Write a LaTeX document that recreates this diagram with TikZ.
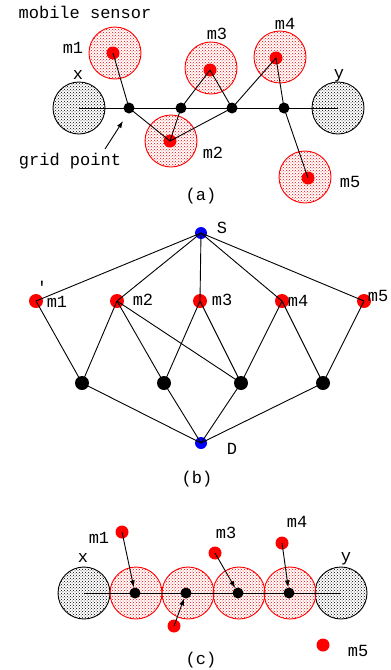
\documentclass[tikz,border=0pt]{standalone}
\usepackage{fontspec}
\setmonofont{Liberation Mono}
\usetikzlibrary{arrows.meta, patterns, positioning}
\tikzset{
  sensrange/.style = {circle, draw=red, line width=0.9pt, pattern=crosshatch dots,
                   pattern color=red, minimum size=52pt, inner sep=0pt},
  endcirc/.style= {circle, draw=black, line width=0.9pt, pattern=crosshatch dots,
                   pattern color=black, minimum size=52pt, inner sep=0pt},
  sensor/.style = {circle, fill=red, minimum size=13pt, inner sep=0pt},
  gridpt/.style = {circle, fill=black, minimum size=11pt, inner sep=0pt},
  term/.style   = {circle, fill=blue, minimum size=12pt, inner sep=0pt},
  big/.style    = {minimum size=14pt},
  ln/.style     = {draw=black, line width=0.9pt},
  ar/.style     = {-{Latex[length=7pt, width=5pt]}, draw=black, line width=0.9pt},
  lbl/.style    = {font=\fontsize{17}{20}\selectfont\ttfamily, inner sep=0pt}
}
\begin{document}
\begin{tikzpicture}[x=1pt, y=-1pt]
  \useasboundingbox (0,0) rectangle (391,670);
  % (a) sensors and their ranges
  \node[endcirc] (xa) at (79,108) {};
  \node[endcirc] (ya) at (338,108) {};
  \node[sensrange] (ra1) at (115,53) {};
  \node[sensrange] (ra2) at (171,141) {};
  \node[sensrange] (ra3) at (211,68) {};
  \node[sensrange] (ra4) at (280,57) {};
  \node[sensrange] (ra5) at (305,177) {};
  \draw[ln] (xa.center) -- (ya.center);
  \foreach \i/\gx in {1/129, 2/181, 3/232, 4/284}
    \node[gridpt] (ga\i) at (\gx,108) {};
  \node[sensor] (ma1) at (113,53) {};
  \node[sensor] (ma2) at (170,141) {};
  \node[sensor] (ma3) at (210,70) {};
  \node[sensor] (ma4) at (276,58) {};
  \node[sensor] (ma5) at (308,178) {};
  \draw[ln] (ma1.center) -- (ga1.center) -- (ma2.center) -- (ga2.center)
            -- (ma3.center) -- (ga3.center) -- (ma2.center);
  \draw[ln] (ga3.center) -- (ma4.center) -- (ga4.center) -- (ma5.center);
  \node[lbl] (title) at (85,12) {mobile sensor};
  \node[lbl] at (73,48) {m1};
  \node[lbl] at (213,153) {m2};
  \node[lbl] at (217,34) {m3};
  \node[lbl] at (285,24) {m4};
  \node[lbl] at (350,182) {m5};
  \node[lbl] at (78,75) {x};
  \node[lbl] at (339,76) {y};
  \node[lbl] (gp) at (70,161) {grid point};
  \coordinate (gptip) at (123,121);
  \draw[ar] (105,149) -- (gptip);
  \node[lbl] (capa) at (201,196) {(a)};
  % (b) flow graph
  \node[term] (S) at (201,233) {};
  \node[term] (D) at (201,443) {};
  \foreach \i/\mx in {1/36, 2/117, 3/200, 4/282, 5/364}
    \node[sensor, big] (mb\i) at (\mx,301) {};
  \foreach \i/\bx in {1/82, 2/164, 3/241, 4/323}
    \node[gridpt, big] (gb\i) at (\bx,383) {};
  \foreach \i in {1,...,5}
    \draw[ln] (S.center) -- (mb\i.center);
  \foreach \a/\b in {1/1, 2/1, 2/2, 2/3, 3/2, 3/3, 4/3, 4/4, 5/4}
    \draw[ln] (mb\a.center) -- (gb\b.center);
  \foreach \i in {1,...,4}
    \draw[ln] (gb\i.center) -- (D.center);
  \node[lbl] at (222,228) {S};
  \node[lbl] at (232,449) {D};
  \node[lbl] at (42,287) {'};
  \node[lbl] at (57,302) {m1};
  \node[lbl] at (143,300) {m2};
  \node[lbl] at (222,300) {m3};
  \node[lbl] at (298,301) {m4};
  \node[lbl] at (378,296) {m5};
  \node[lbl] (capb) at (197,479) {(b)};
  % (c) sensors moved onto the grid points
  \node[endcirc] (xc) at (84,593) {};
  \node[endcirc] (yc) at (341,593) {};
  \foreach \i/\gx in {1/136, 2/188, 3/239, 4/290}
    \node[sensrange] (rc\i) at (\gx,593) {};
  \draw[ln] (xc.center) -- (yc.center);
  \foreach \i/\gx in {1/135, 2/186, 3/238, 4/289}
    \node[gridpt] (gc\i) at (\gx,593) {};
  \node[sensor] (mc1) at (122,532) {};
  \node[sensor] (mc2) at (174,626) {};
  \node[sensor] (mc3) at (215,553) {};
  \node[sensor] (mc4) at (282,543) {};
  \node[sensor] (mc5) at (323,645) {};
  \foreach \i in {1,...,4}
    \draw[ar] (mc\i.center) -- (gc\i);
  \node[lbl] at (99,538) {m1};
  \node[lbl] at (226,533) {m3};
  \node[lbl] at (297,522) {m4};
  \node[lbl] at (358,651) {m5};
  \node[lbl] at (83,558) {x};
  \node[lbl] at (346,559) {y};
  \node[lbl] (capc) at (201,660) {(c)};
\end{tikzpicture}
\end{document}
